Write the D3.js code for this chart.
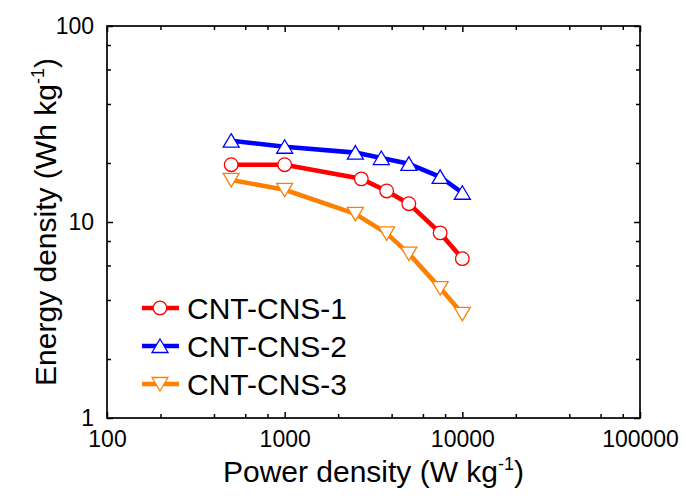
<!DOCTYPE html>
<html>
<head>
<meta charset="utf-8">
<script src="https://cdn.jsdelivr.net/npm/d3@7"></script>
<style>
  body { margin: 0; background: #fff; }
  svg text { font-family: "Liberation Sans", Arial, sans-serif; fill: #000; }
</style>
</head>
<body>
<div id="chart"></div>
<script>
// Ragone plot: energy density vs power density, log-log

width = 686;
height = 497;
margin = ({top: 26, right: 46, bottom: 79, left: 107});

// data
const seriesNames = ["CNT-CNS-1", "CNT-CNS-2", "CNT-CNS-3"];
const powerCNS1 = [500, 1000, 2700, 3750, 5000, 7500, 10000];
const energyCNS1 = [19.6, 19.6, 16.6, 14.4, 12.4, 8.8, 6.5];
const powerCNS2 = [500, 1000, 2500, 3500, 5000, 7500, 10000];
const energyCNS2 = [26, 24.2, 22.6, 21.2, 19.8, 17, 14.1];
const powerCNS3 = [500, 1000, 2500, 3750, 5000, 7500, 10000];
const energyCNS3 = [16.4, 14.6, 11.0, 8.75, 6.9, 4.6, 3.4];

const xTicks = [100, 1000, 10000, 100000];
const yTicks = [1, 10, 100];

const colors = ["#ff0000", "#0000ff", "#ff8000"];
const shapes = ["circle", "up", "down"];

const series = [
  {name: seriesNames[0], x: powerCNS1, y: energyCNS1},
  {name: seriesNames[1], x: powerCNS2, y: energyCNS2},
  {name: seriesNames[2], x: powerCNS3, y: energyCNS3}
];

let xScale = d3.scaleLog()
    .domain([100, 100000])
    .range([margin.left, width - margin.right]);
let yScale = d3.scaleLog()
    .domain([1, 100])
    .range([height - margin.bottom, margin.top]);

// minor ticks at 2,4,6,8 of each decade
function minors(lo, hi) {
  let out = [];
  for (let d = lo; d < hi; d *= 10) [2, 4, 6, 8].forEach(m => out.push(d * m));
  return out;
}
const xMinor = minors(100, 100000);
const yMinor = minors(1, 100);

const svg = d3.select("#chart").append("svg")
    .attr("width", width).attr("height", height);

const x0 = margin.left, x1 = width - margin.right;
const y0 = height - margin.bottom, y1 = margin.top;

function tickStyle(g) {
  g.select(".domain").remove();
  g.selectAll(".tick line").attr("stroke", "#000").attr("stroke-width", 1.5);
}

// bottom
svg.append("g").attr("transform", `translate(0,${y0})`)
    .call(d3.axisBottom(xScale).tickValues(xTicks).tickSize(-6).tickPadding(13)
      .tickFormat(d3.format("d")))
    .call(tickStyle)
    .call(g => g.selectAll("text").attr("font-size", 23).attr("font-family", "Liberation Sans, Arial, sans-serif"));
svg.append("g").attr("transform", `translate(0,${y0})`)
    .call(d3.axisBottom(xScale).tickValues(xMinor).tickSize(-4).tickFormat(""))
    .call(tickStyle);
// top
svg.append("g").attr("transform", `translate(0,${y1})`)
    .call(d3.axisTop(xScale).tickValues(xTicks).tickSize(-6).tickFormat(""))
    .call(tickStyle);
svg.append("g").attr("transform", `translate(0,${y1})`)
    .call(d3.axisTop(xScale).tickValues(xMinor).tickSize(-4).tickFormat(""))
    .call(tickStyle);
// left
svg.append("g").attr("transform", `translate(${x0},0)`)
    .call(d3.axisLeft(yScale).tickValues(yTicks).tickSize(-6).tickPadding(13)
      .tickFormat(d3.format("d")))
    .call(tickStyle)
    .call(g => g.selectAll("text").attr("font-size", 23).attr("font-family", "Liberation Sans, Arial, sans-serif"));
svg.append("g").attr("transform", `translate(${x0},0)`)
    .call(d3.axisLeft(yScale).tickValues(yMinor).tickSize(-4).tickFormat(""))
    .call(tickStyle);
// right
svg.append("g").attr("transform", `translate(${x1},0)`)
    .call(d3.axisRight(yScale).tickValues(yTicks).tickSize(-6).tickFormat(""))
    .call(tickStyle);
svg.append("g").attr("transform", `translate(${x1},0)`)
    .call(d3.axisRight(yScale).tickValues(yMinor).tickSize(-4).tickFormat(""))
    .call(tickStyle);

// frame
svg.append("rect")
    .attr("x", x0).attr("y", y1)
    .attr("width", x1 - x0).attr("height", y0 - y1)
    .attr("fill", "none").attr("stroke", "#000").attr("stroke-width", 1.7);

// marker drawing
function marker(sel, shape, color) {
  if (shape === "circle") {
    sel.append("circle").attr("r", 6.8)
        .attr("fill", "#fff").attr("stroke", color).attr("stroke-width", 1.3);
  } else {
    let s = shape === "up" ? 1 : -1;
    sel.append("path")
        .attr("d", `M0,${-7 * s}L8,${6.5 * s}L-8,${6.5 * s}Z`)
        .attr("fill", "#fff").attr("stroke", color).attr("stroke-width", 1.3);
  }
}

const line = d3.line().x(d => xScale(d[0])).y(d => yScale(d[1]));

series.forEach((s, i) => {
  let pts = s.x.map((v, j) => [v, s.y[j]]);
  svg.append("path").datum(pts)
      .attr("d", line)
      .attr("fill", "none")
      .attr("stroke", colors[i])
      .attr("stroke-width", 4.6)
      .attr("stroke-linejoin", "round");
  svg.append("g").selectAll("g").data(pts).enter().append("g")
      .attr("transform", d => `translate(${xScale(d[0])},${yScale(d[1])})`)
      .each(function() { marker(d3.select(this), shapes[i], colors[i]); });
});

// legend
const legendY = [308, 346, 384];
series.forEach((s, i) => {
  let g = svg.append("g").attr("transform", `translate(160,${legendY[i]})`);
  g.append("line").attr("x1", -18).attr("x2", 19)
      .attr("stroke", colors[i]).attr("stroke-width", 4.6);
  marker(g, shapes[i], colors[i]);
  g.append("text").attr("x", 27).attr("y", 10.5)
      .attr("font-size", 30).text(s.name);
});

// axis titles
const xt = svg.append("text")
    .attr("x", (x0 + x1) / 2).attr("y", 482)
    .attr("text-anchor", "middle")
    .attr("font-size", 30);
xt.append("tspan").text("Power density (W kg");
xt.append("tspan").attr("font-size", 18).attr("dy", -12).text("-1");
xt.append("tspan").attr("dy", 12).text(")");

const yt = svg.append("text")
    .attr("transform", `translate(56,${(y0 + y1) / 2}) rotate(-90)`)
    .attr("text-anchor", "middle")
    .attr("font-size", 30);
yt.append("tspan").text("Energy density (Wh kg");
yt.append("tspan").attr("font-size", 18).attr("dy", -12).text("-1");
yt.append("tspan").attr("dy", 12).text(")");
</script>
</body>
</html>
